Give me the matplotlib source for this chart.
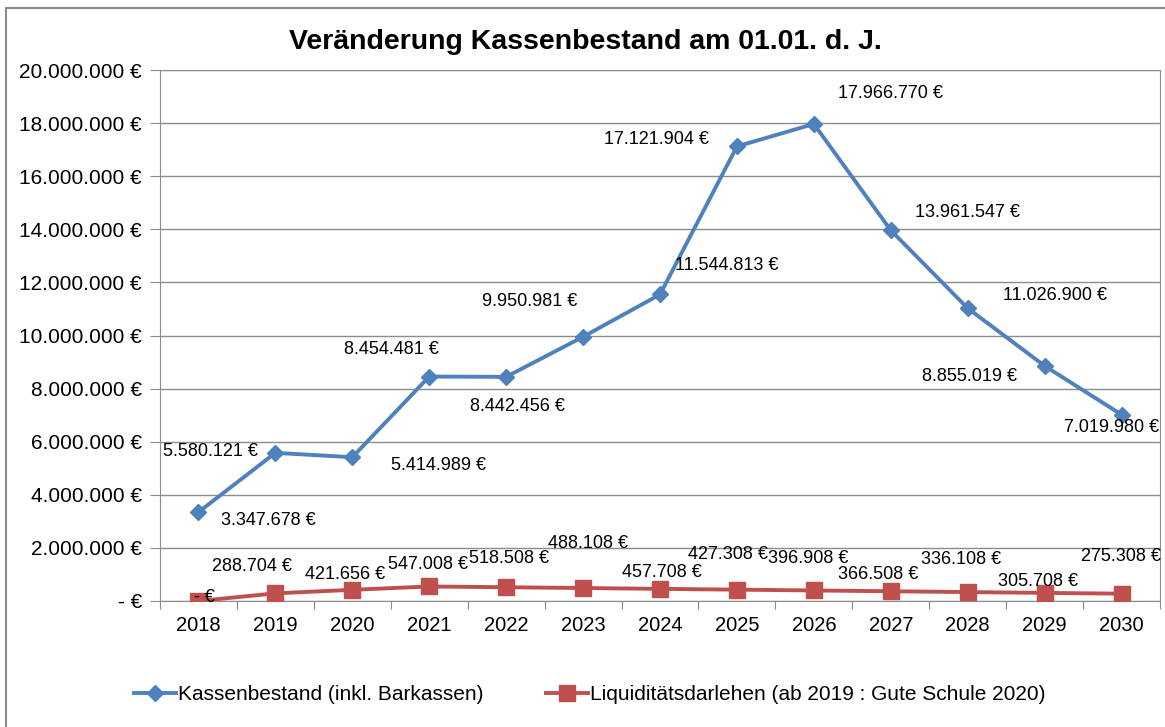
import matplotlib.pyplot as plt
from matplotlib.patches import Rectangle
from matplotlib.ticker import FuncFormatter, FixedLocator

plt.rcParams['font.family'] = ['Liberation Sans', 'DejaVu Sans']

years = ['2018', '2019', '2020', '2021', '2022', '2023', '2024',
         '2025', '2026', '2027', '2028', '2029', '2030']
kasse = [3347678, 5580121, 5414989, 8454481, 8442456, 9950981, 11544813,
         17121904, 17966770, 13961547, 11026900, 8855019, 7019980]
darlehen = [0, 288704, 421656, 547008, 518508, 488108, 457708,
            427308, 396908, 366508, 336108, 305708, 275308]

# label offsets in pixels (dx, dy), picked by eye from the original
kasse_off = [(70, -8), (-65, 1), (86, -8), (-38, 27), (11, -30), (-53, 35),
             (67, 29), (-80, 7), (77, 30), (77, 18), (87, 13), (-75, -11), (-10, -13)]
darl_off = [(6, 3), (-23, 27), (-7, 15), (-1, 22), (3, 29), (5, 45),
            (2, 16), (-9, 35), (-6, 32), (-13, 17), (-7, 33), (-7, 11), (-1, 37)]


def euro(v):
    if v == 0:
        return '-\u00a0€'
    return '{:,.0f}'.format(v).replace(',', '.') + '\u00a0€'


fig = plt.figure(figsize=(11.65, 7.27), dpi=100)
W, H = 1165, 727
ax = fig.add_axes([160 / W, 1 - 601 / H, 1000 / W, 531 / H])

x = list(range(len(years)))
ax.plot(x, kasse, color='#4F81BD', lw=2.8, marker='D', ms=8,
        label='Kassenbestand (inkl. Barkassen)', zorder=3)
ax.plot(x, darlehen, color='#C0504D', lw=2.8, marker='s', ms=11,
        label='Liquiditätsdarlehen (ab 2019 : Gute Schule 2020)', zorder=3)

for i, v in enumerate(kasse):
    ax.annotate(euro(v), (i, v), xytext=kasse_off[i], textcoords='offset pixels',
                ha='center', va='center', fontsize=13, color='black', zorder=4)
for i, v in enumerate(darlehen):
    ax.annotate(euro(v), (i, v), xytext=darl_off[i], textcoords='offset pixels',
                ha='center', va='center', fontsize=13, color='black', zorder=4)

ax.set_xlim(-0.5, len(years) - 0.5)
ax.set_ylim(0, 20000000)
ax.yaxis.set_major_locator(FixedLocator(range(0, 20000001, 2000000)))
ax.yaxis.set_major_formatter(FuncFormatter(lambda v, p: euro(v)))
ax.grid(axis='y', color='#8c8c8c', lw=1)
ax.set_axisbelow(True)

ax.set_xticks([i - 0.5 for i in range(len(years) + 1)])
ax.set_xticklabels([])
ax.set_xticks(x, minor=True)
ax.set_xticklabels(years, minor=True)
ax.tick_params(axis='x', which='major', length=6, color='#8c8c8c')
ax.tick_params(axis='x', which='minor', length=0, pad=11, labelsize=14.5)
ax.tick_params(axis='y', length=7, color='#8c8c8c', labelsize=15, pad=6)
for s in ax.spines.values():
    s.set_color('#8c8c8c')

fig.text(585 / W, 1 - 42 / H, 'Veränderung Kassenbestand am 01.01. d. J.',
         ha='center', va='center', fontsize=20.5, fontweight='bold')

fig.legend(loc='center', bbox_to_anchor=(590 / W, 1 - 695 / H), ncol=2,
           frameon=False, fontsize=15, columnspacing=3.0, handlelength=2,
           handletextpad=0.1)

# outer chart frame (cut off on right and bottom in the original)
fig.patches.append(Rectangle((6 / W, -0.1), 1.2, 1 - 8 / H + 0.1,
                             transform=fig.transFigure, fill=False,
                             edgecolor='#8c8c8c', lw=1.5))

fig.savefig('out.png', dpi=100)
